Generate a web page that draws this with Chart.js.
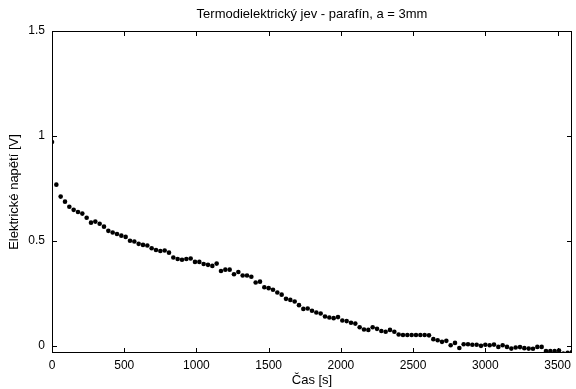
<!DOCTYPE html>
<html>
<head>
<meta charset="utf-8">
<script src="https://cdn.jsdelivr.net/npm/chart.js@4/dist/chart.umd.min.js"></script>
<style>
  html, body { margin: 0; padding: 0; background: #fff; }
  #wrap { width: 576px; height: 389px; position: relative; }
</style>
</head>
<body>
<div id="wrap"><canvas id="chart"></canvas></div>
<script>
// measurement times [s]
const times = [
    0, 30, 60, 90, 120, 150, 180, 210, 240, 270,
    300, 330, 360, 390, 420, 450, 480, 510, 540, 570,
    600, 630, 660, 690, 720, 750, 780, 810, 840, 870,
    900, 930, 960, 990, 1020, 1050, 1080, 1110, 1140, 1170,
    1200, 1230, 1260, 1290, 1320, 1350, 1380, 1410, 1440, 1470,
    1500, 1530, 1560, 1590, 1620, 1650, 1680, 1710, 1740, 1770,
    1800, 1830, 1860, 1890, 1920, 1950, 1980, 2010, 2040, 2070,
    2100, 2130, 2160, 2190, 2220, 2250, 2280, 2310, 2340, 2370,
    2400, 2430, 2460, 2490, 2520, 2550, 2580, 2610, 2640, 2670,
    2700, 2730, 2760, 2790, 2820, 2850, 2880, 2910, 2940, 2970,
    3000, 3030, 3060, 3090, 3120, 3150, 3180, 3210, 3240, 3270,
    3300, 3330, 3360, 3390, 3420, 3450, 3480, 3510, 3540, 3570,
    3600
];

// electric voltage [V]
const volts = [
    0.971, 0.768, 0.711, 0.687, 0.663, 0.648, 0.638, 0.630, 0.610, 0.587,
    0.592, 0.582, 0.568, 0.548, 0.540, 0.533, 0.525, 0.519, 0.501, 0.497,
    0.486, 0.481, 0.478, 0.465, 0.457, 0.452, 0.454, 0.444, 0.421, 0.414,
    0.410, 0.414, 0.416, 0.400, 0.400, 0.390, 0.386, 0.381, 0.392, 0.357,
    0.363, 0.363, 0.341, 0.352, 0.335, 0.335, 0.329, 0.302, 0.306, 0.279,
    0.275, 0.267, 0.254, 0.244, 0.224, 0.219, 0.211, 0.194, 0.176, 0.178,
    0.167, 0.159, 0.154, 0.140, 0.135, 0.132, 0.137, 0.121, 0.118, 0.110,
    0.106, 0.089, 0.078, 0.076, 0.089, 0.081, 0.071, 0.067, 0.076, 0.067,
    0.054, 0.052, 0.052, 0.052, 0.052, 0.052, 0.052, 0.050, 0.032, 0.027,
    0.019, 0.024, 0.003, 0.014, -0.010, 0.008, 0.008, 0.005, 0.005, 0.000,
    0.005, 0.003, 0.006, -0.005, 0.003, -0.005, -0.013, -0.008, -0.006, -0.011,
    -0.013, -0.014, -0.005, -0.005, -0.025, -0.025, -0.025, -0.022, -0.037, -0.033,
    -0.030
];

const xTicks = [0, 500, 1000, 1500, 2000, 2500, 3000, 3500];
const yTicks = [0, 0.5, 1, 1.5];

const FONT = 'Liberation Sans, Arial, sans-serif';

// MATLAB style box with inward ticks on all four sides
const boxPlugin = {
    id: 'box',
    afterDraw(chart) {
        const { ctx, chartArea: a, scales: { x, y } } = chart;
        const tl = 5;
        ctx.save();
        ctx.strokeStyle = '#000';
        ctx.lineWidth = 1;
        ctx.beginPath();
        ctx.rect(a.left + 0.5, a.top + 0.5, a.right - a.left - 1, a.bottom - a.top - 1);
        x.ticks.forEach(t => {
            const px = Math.round(x.getPixelForValue(t.value)) + 0.5;
            ctx.moveTo(px, a.bottom);
            ctx.lineTo(px, a.bottom - tl);
            ctx.moveTo(px, a.top);
            ctx.lineTo(px, a.top + tl);
        });
        y.ticks.forEach(t => {
            const py = Math.round(y.getPixelForValue(t.value)) + 0.5;
            ctx.moveTo(a.left, py);
            ctx.lineTo(a.left + tl, py);
            ctx.moveTo(a.right, py);
            ctx.lineTo(a.right - tl, py);
        });
        ctx.stroke();
        ctx.restore();
    }
};

new Chart(document.getElementById('chart'), {
    type: 'scatter',
    data: {
        datasets: [{
            data: times.map((t, i) => ({ x: t, y: volts[i] })),
            backgroundColor: '#000',
            borderColor: '#000',
            pointRadius: 2.3,
            pointBorderWidth: 0,
            pointStyle: 'circle'
        }]
    },
    options: {
        responsive: true,
        maintainAspectRatio: false,
        animation: false,
        layout: { padding: { left: 0, right: 1, top: 0, bottom: 0 } },
        plugins: {
            legend: { display: false },
            tooltip: { enabled: false },
            title: {
                display: true,
                fullSize: false,
                text: 'Termodielektrický jev - parafín, a = 3mm',
                color: '#000',
                font: { family: FONT, size: 13, weight: 'normal' },
                padding: { top: 7, bottom: 8.4 }
            }
        },
        scales: {
            x: {
                type: 'linear',
                min: 0,
                max: 3600,
                afterBuildTicks: s => { s.ticks = xTicks.map(v => ({ value: v })); },
                afterFit: s => { s.height = 36; s.paddingRight = 0; s.paddingLeft = 0; },
                grid: { display: false, drawTicks: false },
                border: { display: false },
                ticks: {
                    color: '#000',
                    padding: 5,
                    maxRotation: 0,
                    font: { family: FONT, size: 12 },
                    callback: v => String(v)
                },
                title: {
                    display: true,
                    text: 'Čas [s]',
                    color: '#000',
                    font: { family: FONT, size: 13 },
                    padding: { top: 0, bottom: 1 }
                }
            },
            y: {
                type: 'linear',
                min: -0.034,
                max: 1.5,
                afterBuildTicks: s => { s.ticks = yTicks.map(v => ({ value: v })); },
                afterFit: s => { s.width = 52; },
                grid: { display: false, drawTicks: false },
                border: { display: false },
                ticks: {
                    color: '#000',
                    padding: 7,
                    font: { family: FONT, size: 12 },
                    callback: v => String(v)
                },
                title: {
                    display: true,
                    text: 'Elektrické napětí [V]',
                    color: '#000',
                    font: { family: FONT, size: 13 },
                    padding: { top: 7, bottom: 0 }
                }
            }
        }
    },
    plugins: [boxPlugin]
});
</script>
</body>
</html>
